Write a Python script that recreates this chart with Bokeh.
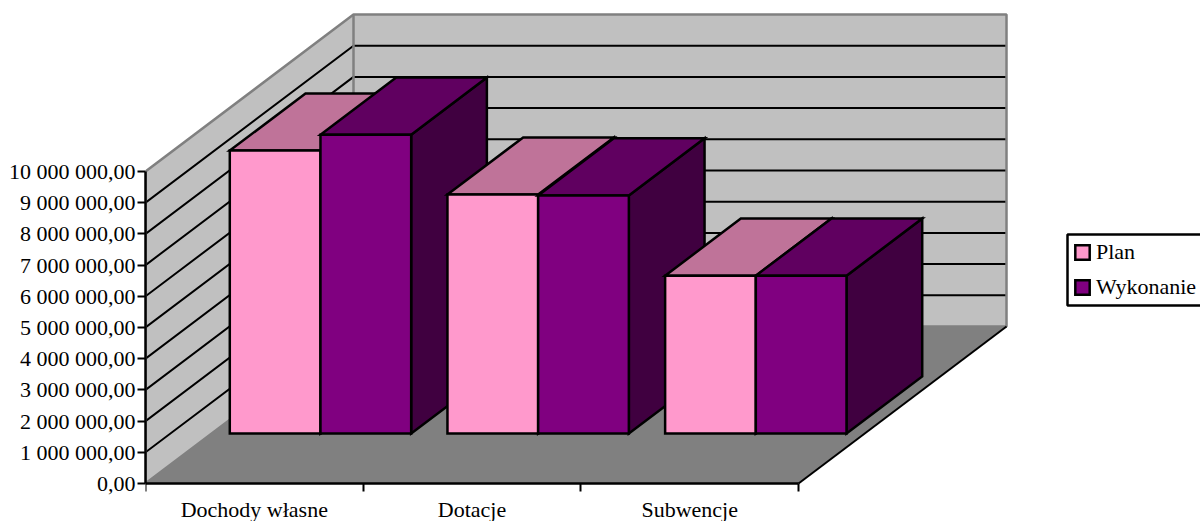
from bokeh.plotting import figure
from bokeh.models import Range1d, FixedTicker, Legend, LegendItem, BoxAnnotation
from bokeh.embed import file_html
from bokeh.resources import INLINE

categories = ["Dochody własne", "Dotacje", "Subwencje"]
plan = [9070000, 7660000, 5060000]
wykonanie = [9580000, 7630000, 5060000]
y_ticks = [0, 1000000, 2000000, 3000000, 4000000, 5000000, 6000000, 7000000, 8000000, 9000000, 10000000]
y_tick_labels = ["0,00", "1 000 000,00", "2 000 000,00", "3 000 000,00", "4 000 000,00", "5 000 000,00",
                 "6 000 000,00", "7 000 000,00", "8 000 000,00", "9 000 000,00", "10 000 000,00"]
series_names = ["Plan", "Wykonanie"]

FONT = "Liberation Serif"
FS = "22px"
PX_PER_CAT = 217.67
PX_PER_VAL = 31.2 / 1e6
DEPTH_PX = (208, 157)
W, H = 1200, 521
LEFT, BOTTOM = 145, 483

frame_w = W - LEFT
DX = DEPTH_PX[0] / PX_PER_CAT
DY = DEPTH_PX[1] / PX_PER_VAL


def proj(x, v, d):
    return x + d * DX, v + d * DY


def poly(*pts):
    return [p[0] for p in pts], [p[1] for p in pts]


p = figure(width=W, height=H, output_backend="svg", toolbar_location=None,
           x_range=Range1d(0, frame_w / PX_PER_CAT),
           y_range=Range1d(-(H - BOTTOM) / PX_PER_VAL, BOTTOM / PX_PER_VAL),
           min_border_left=LEFT, min_border_right=0, min_border_top=0,
           min_border_bottom=0, outline_line_color=None, background_fill_color="white",
           border_fill_color="white")
p.grid.visible = False

n = len(categories)
vmax = y_ticks[-1]
WALL = "#C0C0C0"
GRAY = "#808080"

# side wall, back wall, floor
xs, ys = poly(proj(0, 0, 0), proj(0, vmax, 0), proj(0, vmax, 1), proj(0, 0, 1))
p.patch(xs, ys, fill_color=WALL, line_color=None)
xs, ys = poly(proj(0, 0, 1), proj(0, vmax, 1), proj(n, vmax, 1), proj(n, 0, 1))
p.patch(xs, ys, fill_color=WALL, line_color=None)
xs, ys = poly(proj(0, 0, 0), proj(n, 0, 0), proj(n, 0, 1), proj(0, 0, 1))
p.patch(xs, ys, fill_color=GRAY, line_color=None)

# gridlines
for t in y_ticks[1:-1]:
    a, b, c = proj(0, t, 0), proj(0, t, 1), proj(n, t, 1)
    p.line([a[0], b[0], c[0]], [a[1], b[1], c[1]], line_color="black", line_width=2)

# wall borders
a, b, c, d, e = proj(0, 0, 0), proj(0, vmax, 0), proj(0, vmax, 1), proj(n, vmax, 1), proj(n, 0, 1)
f = proj(0, 0, 1)
p.line([a[0], b[0], c[0], d[0], e[0], f[0], a[0]], [a[1], b[1], c[1], d[1], e[1], f[1], a[1]],
       line_color=GRAY, line_width=2.5)
p.line([c[0], f[0]], [c[1], f[1]], line_color=GRAY, line_width=2.5)

# floor right edge
g = proj(n, 0, 0)
p.line([g[0], e[0]], [g[1], e[1]], line_color="black", line_width=2)

# bars
BAR = 0.8333 / 2
D0, D1 = 0.318, 0.682
colors = [("#FF99CC", "#BF7399", "#804D66"), ("#800080", "#600060", "#400040")]
legend_r = [None, None]
LW = 2.5
for i in range(n):
    for s, vals in enumerate([plan, wykonanie]):
        x0 = i + (1 - 2 * BAR) / 2 + s * BAR
        x1 = x0 + BAR
        v = vals[i]
        front, top, side = colors[s]
        pts = poly(proj(x1, 0, D0), proj(x1, v, D0), proj(x1, v, D1), proj(x1, 0, D1))
        p.patch(*pts, fill_color=side, line_color="black", line_width=LW, line_join="miter")
        pts = poly(proj(x0, v, D0), proj(x1, v, D0), proj(x1, v, D1), proj(x0, v, D1))
        p.patch(*pts, fill_color=top, line_color="black", line_width=LW, line_join="miter")
        pts = poly(proj(x0, 0, D0), proj(x1, 0, D0), proj(x1, v, D0), proj(x0, v, D0))
        r = p.patch(*pts, fill_color=front, line_color="black", line_width=LW, line_join="miter")
        if legend_r[s] is None:
            legend_r[s] = r

# axes
ya = p.yaxis[0]
ya.ticker = FixedTicker(ticks=y_ticks)
ya.major_label_overrides = dict(zip(y_ticks, y_tick_labels))
ya.bounds = (0, vmax)
ya.axis_line_color = "black"
ya.axis_line_width = 2.5
ya.major_tick_line_color = "black"
ya.major_tick_line_width = 2
ya.major_tick_in = 0
ya.major_tick_out = 8
ya.minor_tick_line_color = None
ya.major_label_standoff = 2
ya.major_label_text_font = FONT
ya.major_label_text_font_size = FS
ya.major_label_text_color = "black"

xa = p.xaxis[0]
centers = [i + 0.5 for i in range(n)]
xa.fixed_location = 0
xa.ticker = FixedTicker(ticks=centers, minor_ticks=list(range(n + 1)))
xa.major_label_overrides = dict(zip(centers, categories))
xa.bounds = (0, n)
xa.axis_line_color = "black"
xa.axis_line_width = 2.5
xa.major_tick_line_color = None
xa.major_tick_in = 0
xa.major_tick_out = 0
xa.minor_tick_line_color = "black"
xa.minor_tick_line_width = 2
xa.minor_tick_in = 0
xa.minor_tick_out = 8
xa.major_label_standoff = 5
xa.major_label_text_font = FONT
xa.major_label_text_font_size = FS
xa.major_label_text_color = "black"

box = BoxAnnotation(left=1067, right=1215, top=234, bottom=305,
                    left_units="canvas", right_units="canvas", top_units="canvas", bottom_units="canvas",
                    fill_color="white", fill_alpha=1, line_color="black", line_width=2.5, line_alpha=1)
p.add_layout(box)

legend = Legend(items=[LegendItem(label=series_names[k], renderers=[legend_r[k]]) for k in range(2)],
                location=(928, 221), orientation="vertical", margin=0, padding=8, spacing=9,
                glyph_width=18, glyph_height=18, label_standoff=5, label_height=20, label_width=100,
                label_text_font=FONT, label_text_font_size=FS, label_text_color="black",
                border_line_color=None, background_fill_alpha=0)
p.add_layout(legend, "center")

open("out.html", "w").write(file_html(p, INLINE))
